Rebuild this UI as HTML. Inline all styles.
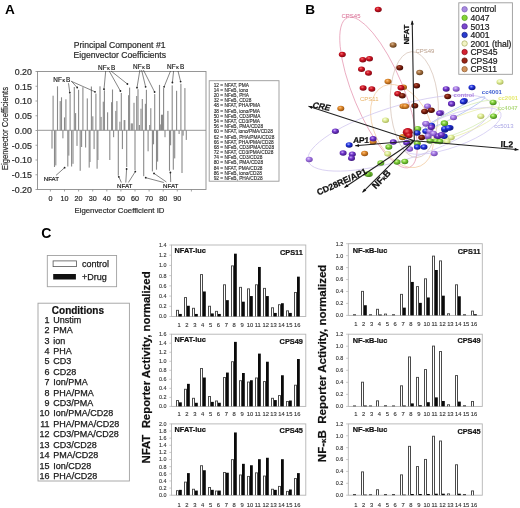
<!DOCTYPE html>
<html><head><meta charset="utf-8"><title>Figure</title>
<style>
html,body{margin:0;padding:0;background:#fff;}
body{width:520px;height:508px;overflow:hidden;}
svg{display:block;font-family:"Liberation Sans",sans-serif;will-change:transform;}
text{font-variant-ligatures:none;font-feature-settings:"liga" 0;}
</style></head><body>
<svg width="520" height="508" viewBox="0 0 520 508">
<defs><radialGradient id="gctl" cx="0.4" cy="0.35" r="0.68"><stop offset="0" stop-color="#dcc8fa"/><stop offset="0.4" stop-color="#a67ae4"/><stop offset="1" stop-color="#6a40a8"/></radialGradient><radialGradient id="gg47" cx="0.4" cy="0.35" r="0.68"><stop offset="0" stop-color="#d8f8a8"/><stop offset="0.4" stop-color="#80d03a"/><stop offset="1" stop-color="#3f8018"/></radialGradient><radialGradient id="gp13" cx="0.4" cy="0.35" r="0.68"><stop offset="0" stop-color="#c8a8f4"/><stop offset="0.4" stop-color="#7236cc"/><stop offset="1" stop-color="#3a1678"/></radialGradient><radialGradient id="gb01" cx="0.4" cy="0.35" r="0.68"><stop offset="0" stop-color="#a0b0ff"/><stop offset="0.4" stop-color="#2233dd"/><stop offset="1" stop-color="#0c1278"/></radialGradient><radialGradient id="gy01" cx="0.4" cy="0.35" r="0.68"><stop offset="0" stop-color="#fbffe4"/><stop offset="0.4" stop-color="#e0ee98"/><stop offset="1" stop-color="#a8b458"/></radialGradient><radialGradient id="gr45" cx="0.4" cy="0.35" r="0.68"><stop offset="0" stop-color="#f07070"/><stop offset="0.4" stop-color="#cc1222"/><stop offset="1" stop-color="#780610"/></radialGradient><radialGradient id="gr49" cx="0.4" cy="0.35" r="0.68"><stop offset="0" stop-color="#b86048"/><stop offset="0.4" stop-color="#80200e"/><stop offset="1" stop-color="#3a0804"/></radialGradient><radialGradient id="go11" cx="0.4" cy="0.35" r="0.68"><stop offset="0" stop-color="#fcc080"/><stop offset="0.4" stop-color="#dc8628"/><stop offset="1" stop-color="#8a4a10"/></radialGradient><radialGradient id="gtan" cx="0.4" cy="0.35" r="0.68"><stop offset="0" stop-color="#dcb890"/><stop offset="0.4" stop-color="#a47040"/><stop offset="1" stop-color="#5e3a18"/></radialGradient></defs>
<rect width="520" height="508" fill="#fff"/>
<g id="pa"><g fill="#8a8a8a"><rect x="52.55" y="95.7" width="1.1" height="34.6"/><rect x="56.95" y="86.3" width="1.1" height="44"/><rect x="59.65" y="101.1" width="1.1" height="29.2"/><rect x="60.95" y="97.3" width="1.1" height="33"/><rect x="63.95" y="117.4" width="1.1" height="12.9"/><rect x="65.35" y="99.3" width="1.1" height="31"/><rect x="69.55" y="94.1" width="1.1" height="36.2"/><rect x="73.75" y="87" width="1.1" height="43.3"/><rect x="75.05" y="113.1" width="1.1" height="17.2"/><rect x="78.05" y="89.8" width="1.1" height="40.5"/><rect x="82.35" y="87.2" width="1.1" height="43.1"/><rect x="86.75" y="98.4" width="1.1" height="31.9"/><rect x="90.85" y="86.5" width="1.1" height="43.8"/><rect x="92.25" y="116.3" width="1.1" height="14"/><rect x="95.35" y="93.6" width="1.1" height="36.7"/><rect x="99.45" y="86.3" width="1.1" height="44"/><rect x="100.55" y="116.9" width="1.1" height="13.4"/><rect x="102.75" y="101.7" width="1.1" height="28.6"/><rect x="103.85" y="90.3" width="1.1" height="40"/><rect x="107.05" y="112.3" width="1.1" height="18"/><rect x="111.05" y="102.2" width="1.1" height="28.1"/><rect x="111.95" y="89.5" width="1.1" height="40.8"/><rect x="115.25" y="110.9" width="1.1" height="19.4"/><rect x="116.35" y="101.1" width="1.1" height="29.2"/><rect x="119.35" y="121.7" width="1.1" height="8.6"/><rect x="120.75" y="93" width="1.1" height="37.3"/><rect x="123.65" y="120.1" width="1.1" height="10.2"/><rect x="124.25" y="120.1" width="1.1" height="10.2"/><rect x="128.05" y="95.2" width="1.1" height="35.1"/><rect x="129.05" y="87.6" width="1.1" height="42.7"/><rect x="130.75" y="123.4" width="1.1" height="6.9"/><rect x="131.75" y="123.4" width="1.1" height="6.9"/><rect x="133.45" y="102.8" width="1.1" height="27.5"/><rect x="136.15" y="96" width="1.1" height="34.3"/><rect x="137.45" y="89.2" width="1.1" height="41.1"/><rect x="138.85" y="125" width="1.1" height="5.3"/><rect x="140.45" y="108.7" width="1.1" height="21.6"/><rect x="141.75" y="99" width="1.1" height="31.3"/><rect x="144.85" y="103.8" width="1.1" height="26.5"/><rect x="145.85" y="89.8" width="1.1" height="40.5"/><rect x="149.15" y="125" width="1.1" height="5.3"/><rect x="150.25" y="108.2" width="1.1" height="22.1"/><rect x="154.15" y="94.1" width="1.1" height="36.2"/><rect x="158.95" y="84.9" width="1.1" height="45.4"/><rect x="159.75" y="124.4" width="1.1" height="5.9"/><rect x="160.95" y="114.7" width="1.1" height="15.6"/><rect x="161.95" y="114.7" width="1.1" height="15.6"/><rect x="163.05" y="88.1" width="1.1" height="42.2"/><rect x="167.35" y="110.9" width="1.1" height="19.4"/><rect x="171.65" y="85.4" width="1.1" height="44.9"/><rect x="176.05" y="90.8" width="1.1" height="39.5"/><rect x="180.35" y="83.8" width="1.1" height="46.5"/><rect x="184.35" y="88.1" width="1.1" height="42.2"/><rect x="51.45" y="130.3" width="1.1" height="18.3"/><rect x="53.95" y="130.3" width="1.1" height="36.7"/><rect x="55.25" y="130.3" width="1.1" height="35.1"/><rect x="62.35" y="130.3" width="1.1" height="8"/><rect x="67.25" y="130.3" width="1.1" height="36.2"/><rect x="68.25" y="130.3" width="1.1" height="25.3"/><rect x="71.05" y="130.3" width="1.1" height="36.2"/><rect x="72.45" y="130.3" width="1.1" height="33.5"/><rect x="76.45" y="130.3" width="1.1" height="15.6"/><rect x="79.65" y="130.3" width="1.1" height="40.5"/><rect x="81.05" y="130.3" width="1.1" height="16.7"/><rect x="85.05" y="130.3" width="1.1" height="17.2"/><rect x="88.65" y="130.3" width="1.1" height="37.3"/><rect x="89.45" y="130.3" width="1.1" height="31.7"/><rect x="93.55" y="130.3" width="1.1" height="18.8"/><rect x="96.55" y="130.3" width="1.1" height="38.4"/><rect x="97.35" y="130.3" width="1.1" height="29.7"/><rect x="109.25" y="130.3" width="1.1" height="29.7"/><rect x="113.05" y="130.3" width="1.1" height="6.9"/><rect x="117.75" y="130.3" width="1.1" height="45.4"/><rect x="121.85" y="130.3" width="1.1" height="18.8"/><rect x="126.15" y="130.3" width="1.1" height="36.7"/><rect x="134.45" y="130.3" width="1.1" height="40"/><rect x="143.15" y="130.3" width="1.1" height="45.9"/><rect x="147.55" y="130.3" width="1.1" height="21"/><rect x="151.85" y="130.3" width="1.1" height="41.1"/><rect x="152.95" y="130.3" width="1.1" height="14"/><rect x="155.95" y="130.3" width="1.1" height="39.4"/><rect x="157.05" y="130.3" width="1.1" height="31.3"/><rect x="164.45" y="130.3" width="1.1" height="6.9"/><rect x="168.95" y="130.3" width="1.1" height="40.5"/><rect x="170.05" y="130.3" width="1.1" height="15"/><rect x="172.75" y="130.3" width="1.1" height="39.4"/><rect x="174.15" y="130.3" width="1.1" height="28.1"/><rect x="178.55" y="130.3" width="1.1" height="3.7"/><rect x="181.45" y="130.3" width="1.1" height="42.7"/><rect x="182.55" y="130.3" width="1.1" height="5.3"/><rect x="185.75" y="130.3" width="1.1" height="9.6"/></g><rect x="37.5" y="71.5" width="168.5" height="118" fill="none" stroke="#8c8c8c" stroke-width="0.9"/><line x1="37.5" y1="130.3" x2="206" y2="130.3" stroke="#8c8c8c" stroke-width="0.9"/><path d="M37.5 71.5h-2 M37.5 86.25h-2 M37.5 101h-2 M37.5 115.75h-2 M37.5 130.5h-2 M37.5 145.25h-2 M37.5 160h-2 M37.5 174.75h-2 M37.5 189.5h-2 M50.4 189.5v2 M64.5 189.5v2 M78.6 189.5v2 M92.7 189.5v2 M106.8 189.5v2 M120.9 189.5v2 M135 189.5v2 M149.1 189.5v2 M163.2 189.5v2 M177.3 189.5v2 M191.4 189.5v2" stroke="#8c8c8c" stroke-width="0.8" fill="none"/><g font-size="8.8" fill="#2a2a2a" stroke="#2a2a2a" stroke-width="0.22" text-anchor="end"><text x="31.9" y="74.8">0.20</text><text x="31.9" y="89.55">0.15</text><text x="31.9" y="104.3">0.10</text><text x="31.9" y="119.05">0.05</text><text x="31.9" y="133.8">0.00</text><text x="31.9" y="148.55">-0.05</text><text x="31.9" y="163.3">-0.10</text><text x="31.9" y="178.05">-0.15</text><text x="31.9" y="192.8">-0.20</text></g><g font-size="7.2" fill="#2a2a2a" stroke="#2a2a2a" stroke-width="0.2"><text x="50.4" y="200.6" text-anchor="middle">0</text><text x="64.5" y="200.6" text-anchor="middle">10</text><text x="78.6" y="200.6" text-anchor="middle">20</text><text x="92.7" y="200.6" text-anchor="middle">30</text><text x="106.8" y="200.6" text-anchor="middle">40</text><text x="120.9" y="200.6" text-anchor="middle">50</text><text x="135" y="200.6" text-anchor="middle">60</text><text x="149.1" y="200.6" text-anchor="middle">70</text><text x="163.2" y="200.6" text-anchor="middle">80</text><text x="177.3" y="200.6" text-anchor="middle">90</text></g><text x="119.6" y="48.2" font-size="8.6" fill="#2a2a2a" stroke="#2a2a2a" stroke-width="0.2" text-anchor="middle">Principal Component #1</text><text x="119.8" y="57.9" font-size="8.6" fill="#2a2a2a" stroke="#2a2a2a" stroke-width="0.2" text-anchor="middle">Eigenvector Coefficients</text><text x="119.5" y="212.8" font-size="7.8" fill="#2a2a2a" stroke="#2a2a2a" stroke-width="0.2" text-anchor="middle">Eigenvector Coefficient ID</text><text transform="translate(7.6 128.6) rotate(-90) scale(0.9 1)" font-size="8.6" fill="#2a2a2a" stroke="#2a2a2a" stroke-width="0.18" text-anchor="middle">Eigenvector Coefficients</text><text x="4.9" y="13.9" font-size="13.6" font-weight="bold" fill="#000">A</text><g font-size="6.4" fill="#1a1a1a" stroke="#1a1a1a" stroke-width="0.18" letter-spacing="0.15"><text x="53.2" y="81.5">NF<tspan font-size="5" dx="0.5">&#954;</tspan><tspan dx="0.9">B</tspan></text><text x="98" y="70.2">NF<tspan font-size="5" dx="0.5">&#954;</tspan><tspan dx="0.9">B</tspan></text><text x="133" y="68.9">NF<tspan font-size="5" dx="0.5">&#954;</tspan><tspan dx="0.9">B</tspan></text><text x="167" y="69.4">NF<tspan font-size="5" dx="0.5">&#954;</tspan><tspan dx="0.9">B</tspan></text></g><g font-size="6.2" fill="#1a1a1a" stroke="#1a1a1a" stroke-width="0.18"><text x="43.7" y="181.3">NFAT</text><text x="117" y="187.7">NFAT</text><text x="163" y="187.7">NFAT</text></g><path d="M68.5 83.2L69.8 92.7M71.1 80.9L77.2 87.5M71.5 81.4L95 91.8M105.7 71L104 89.2M109.2 71L120.4 91M111 71L127.4 84M139.9 70L137 87.7M141.6 70L145.6 86.8M143.4 70L154.6 92M170.5 71L164.1 86.8M173.6 71L172.4 82.5M178 71L180.6 81.6M56 175.4L64.6 167.7M121.4 182.5L118.8 176.8M125.8 182.5L126.6 169M128.4 182.5L135.3 171.6M163.8 182.5L145.7 177.7M166.4 182L154 173.4M170.7 182L170.4 172.5" stroke="#333" stroke-width="0.6" fill="none"/><g fill="#222"><circle cx="69.8" cy="92.7" r="0.9"/><circle cx="77.2" cy="87.5" r="0.9"/><circle cx="95" cy="91.8" r="0.9"/><circle cx="104" cy="89.2" r="0.9"/><circle cx="120.4" cy="91" r="0.9"/><circle cx="127.4" cy="84" r="0.9"/><circle cx="137" cy="87.7" r="0.9"/><circle cx="145.6" cy="86.8" r="0.9"/><circle cx="154.6" cy="92" r="0.9"/><circle cx="164.1" cy="86.8" r="0.9"/><circle cx="172.4" cy="82.5" r="0.9"/><circle cx="180.6" cy="81.6" r="0.9"/><circle cx="64.6" cy="167.7" r="0.9"/><circle cx="118.8" cy="176.8" r="0.9"/><circle cx="126.6" cy="169" r="0.9"/><circle cx="135.3" cy="171.6" r="0.9"/><circle cx="145.7" cy="177.7" r="0.9"/><circle cx="154" cy="173.4" r="0.9"/><circle cx="170.4" cy="172.5" r="0.9"/></g><rect x="209.2" y="80.7" width="69.8" height="100.5" fill="none" stroke="#999" stroke-width="0.9"/><g font-size="4.8" fill="#2a2a2a" stroke="#2a2a2a" stroke-width="0.12" xml:space="preserve"><text x="213.7" y="86.8">12 = NFAT, PMA</text><text x="213.7" y="91.97">14 = NF&#954;B, iono</text><text x="213.7" y="97.14">20 = NF&#954;B, PHA</text><text x="213.7" y="102.32">32 = NF&#954;B, CD28</text><text x="213.7" y="107.49">48 = NFAT, PHA/PMA</text><text x="213.7" y="112.66">38 = NF&#954;B, iono/PMA</text><text x="213.7" y="117.83">50 = NF&#954;B, CD3/PMA</text><text x="213.7" y="123.01">54 = NFAT, CD3/PMA</text><text x="213.7" y="128.18">56 = NF&#954;B, PMA/CD28</text><text x="213.7" y="133.35">60 = NFAT, iono/PMA/CD28</text><text x="213.7" y="138.52">62 = NF&#954;B, PHA/PMA/CD28</text><text x="213.7" y="143.69">66 = NFAT, PHA/PMA/CD28</text><text x="213.7" y="148.87">68 = NF&#954;B, CD3/PMA/CD28</text><text x="213.7" y="154.04">72 = NFAT,  CD3/PMA/CD28</text><text x="213.7" y="159.21">74 = NF&#954;B, CD3/CD28</text><text x="213.7" y="164.38">80 = NF&#954;B, PMA/CD28</text><text x="213.7" y="169.56">84 = NFAT, PMA/CD28</text><text x="213.7" y="174.73">86 = NF&#954;B, iono/CD28</text><text x="213.7" y="179.9">92 = NF&#954;B, PHA/CD28</text></g></g>
<g id="pb"><ellipse cx="378.5" cy="92.5" rx="81" ry="25" transform="rotate(67.4 378.5 92.5)" fill="none" stroke="#e596b0" stroke-width="0.7"/><ellipse cx="414.3" cy="104.6" rx="24" ry="53" transform="rotate(-3 414.3 104.6)" fill="none" stroke="#d4c0b4" stroke-width="0.7"/><ellipse cx="402" cy="126" rx="28" ry="44" transform="rotate(-25 402 126)" fill="none" stroke="#f2caa0" stroke-width="0.7"/><ellipse cx="400" cy="133" rx="96" ry="27" transform="rotate(-17 400 133)" fill="none" stroke="#cfc4ee" stroke-width="0.7"/><ellipse cx="455" cy="113" rx="34" ry="3.5" transform="rotate(-28 455 113)" fill="none" stroke="#a8b8f0" stroke-width="0.7"/><ellipse cx="463" cy="124" rx="40" ry="9" transform="rotate(-22 463 124)" fill="none" stroke="#e8eca8" stroke-width="0.7"/><ellipse cx="461" cy="120" rx="42" ry="11" transform="rotate(-24 461 120)" fill="none" stroke="#d4ecb4" stroke-width="0.7"/><ellipse cx="452" cy="131" rx="52" ry="16" transform="rotate(-20 452 131)" fill="none" stroke="#d0c8f2" stroke-width="0.7"/><ellipse cx="378.2" cy="9.5" rx="3.5" ry="2.75" fill="url(#gr45)"/><ellipse cx="393.1" cy="44.9" rx="3.5" ry="2.75" fill="url(#gtan)"/><ellipse cx="342.3" cy="54.6" rx="3.5" ry="2.75" fill="url(#gr45)"/><ellipse cx="362.8" cy="59.7" rx="3.5" ry="2.75" fill="url(#gr45)"/><ellipse cx="369.5" cy="58.8" rx="3.5" ry="2.75" fill="url(#gr45)"/><ellipse cx="361.5" cy="69.2" rx="3.5" ry="2.75" fill="url(#gr45)"/><ellipse cx="368.5" cy="73.1" rx="3.5" ry="2.75" fill="url(#gr45)"/><ellipse cx="363.1" cy="88" rx="3.5" ry="2.75" fill="url(#gr45)"/><ellipse cx="371.8" cy="88.9" rx="3.5" ry="2.75" fill="url(#gr45)"/><ellipse cx="399.7" cy="67.7" rx="3.5" ry="2.75" fill="url(#gr49)"/><ellipse cx="388" cy="81.5" rx="3.5" ry="2.75" fill="url(#go11)"/><ellipse cx="403.5" cy="87.2" rx="3.5" ry="2.75" fill="url(#go11)"/><ellipse cx="401" cy="87.7" rx="3.5" ry="2.75" fill="url(#gr45)"/><ellipse cx="397.7" cy="93.8" rx="3.5" ry="2.75" fill="url(#gr45)"/><ellipse cx="402.3" cy="95.8" rx="3.5" ry="2.75" fill="url(#gr49)"/><ellipse cx="403" cy="106.2" rx="3.5" ry="2.75" fill="url(#go11)"/><ellipse cx="340.8" cy="108.5" rx="3.5" ry="2.75" fill="url(#go11)"/><ellipse cx="419.7" cy="72.6" rx="3.5" ry="2.75" fill="url(#gtan)"/><ellipse cx="416.6" cy="85.7" rx="3.5" ry="2.75" fill="url(#gr49)"/><ellipse cx="446.2" cy="88.9" rx="3.5" ry="2.75" fill="url(#gp13)"/><ellipse cx="456.2" cy="88.9" rx="3.5" ry="2.75" fill="url(#gctl)"/><ellipse cx="472" cy="87.4" rx="3.5" ry="2.75" fill="url(#gb01)"/><ellipse cx="447.7" cy="96.6" rx="3.5" ry="2.75" fill="url(#gr49)"/><ellipse cx="500" cy="81.9" rx="3.5" ry="2.75" fill="url(#gy01)"/><ellipse cx="451.5" cy="103.5" rx="3.5" ry="2.75" fill="url(#gp13)"/><ellipse cx="464.3" cy="100.8" rx="3.5" ry="2.75" fill="url(#gb01)"/><ellipse cx="493.1" cy="102.4" rx="3.5" ry="2.75" fill="url(#gg47)"/><ellipse cx="480.8" cy="116.2" rx="3.5" ry="2.75" fill="url(#gy01)"/><ellipse cx="493.5" cy="116.2" rx="3.5" ry="2.75" fill="url(#gg47)"/><ellipse cx="453.5" cy="117.6" rx="3.5" ry="2.75" fill="url(#gctl)"/><ellipse cx="440.8" cy="112.7" rx="3.5" ry="2.75" fill="url(#gctl)"/><ellipse cx="414.8" cy="105.8" rx="3.5" ry="2.75" fill="url(#gr49)"/><ellipse cx="405.6" cy="106.3" rx="3.5" ry="2.75" fill="url(#go11)"/><ellipse cx="427.5" cy="106.3" rx="3.5" ry="2.75" fill="url(#gctl)"/><ellipse cx="424.6" cy="111.5" rx="3.5" ry="2.75" fill="url(#gr49)"/><ellipse cx="431.3" cy="110.2" rx="3.5" ry="2.75" fill="url(#gr49)"/><ellipse cx="439.6" cy="113.3" rx="3.5" ry="2.75" fill="url(#gp13)"/><ellipse cx="451.7" cy="104" rx="3.5" ry="2.75" fill="url(#gp13)"/><ellipse cx="463.3" cy="101.7" rx="3.5" ry="2.75" fill="url(#gb01)"/><ellipse cx="425.8" cy="123.7" rx="3.5" ry="2.75" fill="url(#gctl)"/><ellipse cx="431.5" cy="125.4" rx="3.5" ry="2.75" fill="url(#gb01)"/><ellipse cx="417.7" cy="128.8" rx="3.5" ry="2.75" fill="url(#gg47)"/><ellipse cx="417.1" cy="132.9" rx="3.5" ry="2.75" fill="url(#gb01)"/><ellipse cx="425.8" cy="131.2" rx="3.5" ry="2.75" fill="url(#gb01)"/><ellipse cx="429.8" cy="131.2" rx="3.5" ry="2.75" fill="url(#gctl)"/><ellipse cx="444.8" cy="130" rx="3.5" ry="2.75" fill="url(#gb01)"/><ellipse cx="450" cy="127.7" rx="3.5" ry="2.75" fill="url(#gb01)"/><ellipse cx="444.2" cy="123.1" rx="3.5" ry="2.75" fill="url(#gg47)"/><ellipse cx="437.3" cy="136.3" rx="3.5" ry="2.75" fill="url(#gp13)"/><ellipse cx="444.2" cy="136.3" rx="3.5" ry="2.75" fill="url(#gb01)"/><ellipse cx="428" cy="136.9" rx="3.5" ry="2.75" fill="url(#gctl)"/><ellipse cx="421.7" cy="137.5" rx="3.5" ry="2.75" fill="url(#gr49)"/><ellipse cx="436.2" cy="141" rx="3.5" ry="2.75" fill="url(#gg47)"/><ellipse cx="451.2" cy="137.5" rx="3.5" ry="2.75" fill="url(#gy01)"/><ellipse cx="444.6" cy="123.5" rx="3.5" ry="2.75" fill="url(#gg47)"/><ellipse cx="444.6" cy="128.8" rx="3.5" ry="2.75" fill="url(#gb01)"/><ellipse cx="448.5" cy="128" rx="3.5" ry="2.75" fill="url(#gb01)"/><ellipse cx="385.5" cy="120.2" rx="3.5" ry="2.75" fill="url(#gy01)"/><ellipse cx="335.4" cy="131.2" rx="3.5" ry="2.75" fill="url(#gp13)"/><ellipse cx="373.1" cy="141.9" rx="3.5" ry="2.75" fill="url(#go11)"/><ellipse cx="373.1" cy="138.8" rx="3.5" ry="2.75" fill="url(#gp13)"/><ellipse cx="349.2" cy="145" rx="3.5" ry="2.75" fill="url(#gb01)"/><ellipse cx="343.1" cy="153.1" rx="3.5" ry="2.75" fill="url(#gp13)"/><ellipse cx="352.3" cy="154.2" rx="3.5" ry="2.75" fill="url(#gp13)"/><ellipse cx="351.5" cy="158.2" rx="3.5" ry="2.75" fill="url(#gp13)"/><ellipse cx="364.6" cy="153.5" rx="3.5" ry="2.75" fill="url(#go11)"/><ellipse cx="309.2" cy="159.5" rx="3.5" ry="2.75" fill="url(#gctl)"/><ellipse cx="393.3" cy="142.1" rx="3.5" ry="2.75" fill="url(#gp13)"/><ellipse cx="402.8" cy="136.7" rx="3.5" ry="2.75" fill="url(#go11)"/><ellipse cx="406.7" cy="142.7" rx="3.5" ry="2.75" fill="url(#gp13)"/><ellipse cx="417.3" cy="143.3" rx="3.5" ry="2.75" fill="url(#gg47)"/><ellipse cx="417.3" cy="147.1" rx="3.5" ry="2.75" fill="url(#gb01)"/><ellipse cx="424" cy="147.1" rx="3.5" ry="2.75" fill="url(#gb01)"/><ellipse cx="409.6" cy="149" rx="3.5" ry="2.75" fill="url(#gctl)"/><ellipse cx="434.2" cy="153.5" rx="3.5" ry="2.75" fill="url(#gctl)"/><ellipse cx="404.8" cy="161.5" rx="3.5" ry="2.75" fill="url(#gg47)"/><ellipse cx="369.2" cy="174.2" rx="3.5" ry="2.75" fill="url(#gg47)"/><ellipse cx="380.8" cy="163.1" rx="3.5" ry="2.75" fill="url(#gg47)"/><ellipse cx="397" cy="162" rx="3.5" ry="2.75" fill="url(#gg47)"/><ellipse cx="388.8" cy="147" rx="3.5" ry="2.75" fill="url(#gg47)"/><ellipse cx="387.7" cy="153.8" rx="3.5" ry="2.75" fill="url(#gy01)"/><ellipse cx="367.6" cy="174" rx="3.5" ry="2.75" fill="url(#gg47)"/><ellipse cx="430" cy="141" rx="3.5" ry="2.75" fill="url(#gg47)"/><ellipse cx="440" cy="141.5" rx="3.5" ry="2.75" fill="url(#gg47)"/><ellipse cx="447" cy="141.5" rx="3.5" ry="2.75" fill="url(#gy01)"/><ellipse cx="431.3" cy="127.3" rx="3.5" ry="2.75" fill="url(#gp13)"/><ellipse cx="433.5" cy="133.5" rx="3.5" ry="2.75" fill="url(#gctl)"/><ellipse cx="438.2" cy="136.2" rx="3.5" ry="2.75" fill="url(#gp13)"/><ellipse cx="441.5" cy="134.8" rx="3.5" ry="2.75" fill="url(#gp13)"/><ellipse cx="428" cy="135.9" rx="3.5" ry="2.75" fill="url(#gctl)"/><ellipse cx="426" cy="123.7" rx="3.5" ry="2.75" fill="url(#gctl)"/><ellipse cx="402.4" cy="137.4" rx="3.5" ry="2.75" fill="url(#go11)"/><ellipse cx="407.8" cy="132.3" rx="5" ry="4.2" fill="url(#gr45)"/><ellipse cx="409" cy="135.5" rx="3.6" ry="2.8" fill="url(#gr45)"/><path d="M414.3 140.8L412.2 20.8M414.3 140.8L308.5 106.3M414.3 140.8L355.2 145.8M414.3 140.8L344.5 187.5M414.3 140.8L362.5 192.3M414.3 140.8L518.5 149.7" stroke="#222" stroke-width="1.1" fill="none"/><path d="M412.2 20.8L413.87 24.57L410.67 24.63ZM308.5 106.3L312.61 105.96L311.62 109ZM355.2 145.8L358.85 143.89L359.12 147.07ZM344.5 187.5L346.77 184.06L348.55 186.72ZM362.5 192.3L364.07 188.49L366.32 190.76ZM518.5 149.7L514.58 150.97L514.85 147.78Z" fill="#111"/><g font-weight="bold" fill="#111" stroke="#111" stroke-width="0.25"><text transform="translate(409.3 34.6) rotate(-90)" font-size="7.9" text-anchor="middle">NFAT</text><text transform="translate(311.8 107.4) rotate(11) skewX(-12)" font-size="8.4">CRE</text><text transform="translate(352.9 142.8) skewX(-5)" font-size="8.2">AP1</text><text transform="translate(318.6 195.6) rotate(-24.5)" font-size="8.7">CD28RE/AP1</text><text transform="translate(375.8 189.6) rotate(-46)" font-size="9.2">NF<tspan font-size="6.2">&#954;</tspan>B</text><text transform="translate(500.6 146.9) rotate(2)" font-size="8.7">IL2</text></g><g font-size="6"><text x="341.5" y="18.3" fill="#d86890">CPS45</text><text x="415.4" y="52.6" fill="#b89c88">CPS49</text><text x="360" y="100.6" fill="#e8b060">CPS11</text><text x="453.6" y="96.8" fill="#a87ce0" font-weight="bold">control</text><text x="481.8" y="93.8" fill="#3c5cd0" font-weight="bold">cc4001</text><text x="498.2" y="99.5" fill="#e6ea70" font-weight="bold">cc2001</text><text x="497.7" y="109.5" fill="#b4dc84" font-weight="bold">cc4047</text><text x="494.2" y="128" fill="#a8a4e4">cc5013</text></g><rect x="458.8" y="2.8" width="53.6" height="71.5" fill="#fff" stroke="#9a9a9a" stroke-width="0.9"/><g font-size="8.6" fill="#1a1a1a" stroke="#1a1a1a" stroke-width="0.2"><circle cx="464.6" cy="9.3" r="2.7" fill="#a88ae0" stroke="#7a5cb8" stroke-width="0.7"/><text x="470.4" y="12.4">control</text><circle cx="464.6" cy="17.85" r="2.7" fill="#84d436" stroke="#4f9a18" stroke-width="0.7"/><text x="470.4" y="20.95">4047</text><circle cx="464.6" cy="26.4" r="2.7" fill="#7a48cc" stroke="#4a2290" stroke-width="0.7"/><text x="470.4" y="29.5">5013</text><circle cx="464.6" cy="34.95" r="2.7" fill="#2a3cd0" stroke="#16207e" stroke-width="0.7"/><text x="470.4" y="38.05">4001</text><circle cx="464.6" cy="43.5" r="2.7" fill="#f2f4c4" stroke="#a8ac60" stroke-width="0.7"/><text x="470.4" y="46.6">2001 (thal)</text><circle cx="464.6" cy="52.05" r="2.7" fill="#d42232" stroke="#8a0c16" stroke-width="0.7"/><text x="470.4" y="55.15">CPS45</text><circle cx="464.6" cy="60.6" r="2.7" fill="#962414" stroke="#5a0e06" stroke-width="0.7"/><text x="470.4" y="63.7">CPS49</text><circle cx="464.6" cy="69.15" r="2.7" fill="#d0925c" stroke="#8e5a2c" stroke-width="0.7"/><text x="470.4" y="72.25">CPS11</text></g><text x="305.2" y="13.9" font-size="13.6" font-weight="bold" fill="#000">B</text></g>
<g id="pc"><text x="41.2" y="238.4" font-size="14" font-weight="bold" fill="#000">C</text><rect x="47.3" y="255.5" width="69.3" height="31.2" fill="none" stroke="#a0a0a0" stroke-width="0.9"/><rect x="53.1" y="260.9" width="23.4" height="5.7" fill="#fff" stroke="#555" stroke-width="0.8"/><rect x="53.2" y="274" width="22.7" height="5.5" fill="#111"/><g font-size="9" fill="#1a1a1a" stroke="#1a1a1a" stroke-width="0.25"><text x="82" y="267.2">control</text><text x="82" y="280">+Drug</text></g><rect x="38" y="303.2" width="91.4" height="177.8" fill="none" stroke="#a0a0a0" stroke-width="0.9"/><text x="51.8" y="314.4" font-size="10" font-weight="bold" fill="#111" stroke="#111" stroke-width="0.2">Conditions</text><g font-size="9" fill="#1a1a1a" stroke="#1a1a1a" stroke-width="0.25"><text x="49.6" y="322.8" text-anchor="end">1</text><text x="53.3" y="322.8">Unstim</text><text x="49.6" y="333.21" text-anchor="end">2</text><text x="53.3" y="333.21">PMA</text><text x="49.6" y="343.62" text-anchor="end">3</text><text x="53.3" y="343.62">ion</text><text x="49.6" y="354.03" text-anchor="end">4</text><text x="53.3" y="354.03">PHA</text><text x="49.6" y="364.44" text-anchor="end">5</text><text x="53.3" y="364.44">CD3</text><text x="49.6" y="374.85" text-anchor="end">6</text><text x="53.3" y="374.85">CD28</text><text x="49.6" y="385.26" text-anchor="end">7</text><text x="53.3" y="385.26">Ion/PMA</text><text x="49.6" y="395.67" text-anchor="end">8</text><text x="53.3" y="395.67">PHA/PMA</text><text x="49.6" y="406.08" text-anchor="end">9</text><text x="53.3" y="406.08">CD3/PMA</text><text x="49.6" y="416.49" text-anchor="end">10</text><text x="53.3" y="416.49">Ion/PMA/CD28</text><text x="49.6" y="426.9" text-anchor="end">11</text><text x="53.3" y="426.9">PHA/PMA/CD28</text><text x="49.6" y="437.31" text-anchor="end">12</text><text x="53.3" y="437.31">CD3/PMA/CD28</text><text x="49.6" y="447.72" text-anchor="end">13</text><text x="53.3" y="447.72">CD3/CD28</text><text x="49.6" y="458.13" text-anchor="end">14</text><text x="53.3" y="458.13">PMA/CD28</text><text x="49.6" y="468.54" text-anchor="end">15</text><text x="53.3" y="468.54">Ion/CD28</text><text x="49.6" y="478.95" text-anchor="end">16</text><text x="53.3" y="478.95">PHA/CD28</text></g><text transform="translate(149.8 367.5) rotate(-90)" font-size="11.4" font-weight="bold" fill="#111" stroke="#111" stroke-width="0.2" text-anchor="middle" xml:space="preserve">NFAT  Reporter Activity, normalized</text><text transform="translate(326 363.4) rotate(-90)" font-size="11.55" font-weight="bold" fill="#111" stroke="#111" stroke-width="0.2" text-anchor="middle" xml:space="preserve">NF-<tspan font-size="8">&#954;</tspan>B  Reporter Activity, normalized</text><rect x="171.5" y="245" width="134.3" height="71.5" fill="none" stroke="#b4b4b4" stroke-width="0.9"/><path d="M171.5 316.5h-2.2M171.5 306.29h-2.2M171.5 296.07h-2.2M171.5 285.86h-2.2M171.5 275.64h-2.2M171.5 265.43h-2.2M171.5 255.21h-2.2M171.5 245h-2.2" stroke="#b4b4b4" stroke-width="0.7"/><g font-size="5.4" fill="#333" stroke="#333" stroke-width="0.12" text-anchor="end"><text x="166.6" y="318.4">0.0</text><text x="166.6" y="308.19">0.2</text><text x="166.6" y="297.97">0.4</text><text x="166.6" y="287.76">0.6</text><text x="166.6" y="277.54">0.8</text><text x="166.6" y="267.33">1.0</text><text x="166.6" y="257.11">1.2</text><text x="166.6" y="246.9">1.4</text></g><g><rect x="176" y="309.86" width="3" height="6.64" fill="#4a4a4a"/><rect x="177" y="310.76" width="1" height="5.74" fill="#fff"/><rect x="184" y="297.09" width="3" height="19.41" fill="#4a4a4a"/><rect x="185" y="297.99" width="1" height="18.51" fill="#fff"/><rect x="192" y="307.82" width="3" height="8.68" fill="#4a4a4a"/><rect x="193" y="308.72" width="1" height="7.78" fill="#fff"/><rect x="200" y="274.11" width="3" height="42.39" fill="#4a4a4a"/><rect x="201" y="275.01" width="1" height="41.49" fill="#fff"/><rect x="208" y="305.77" width="3" height="10.73" fill="#4a4a4a"/><rect x="209" y="306.67" width="1" height="9.83" fill="#fff"/><rect x="215" y="310.88" width="3" height="5.62" fill="#4a4a4a"/><rect x="216" y="311.78" width="1" height="4.72" fill="#fff"/><rect x="223" y="284.32" width="3" height="32.18" fill="#4a4a4a"/><rect x="224" y="285.22" width="1" height="31.28" fill="#fff"/><rect x="231" y="265.43" width="3" height="51.07" fill="#4a4a4a"/><rect x="232" y="266.33" width="1" height="50.17" fill="#fff"/><rect x="239" y="286.88" width="3" height="29.62" fill="#4a4a4a"/><rect x="240" y="287.78" width="1" height="28.72" fill="#fff"/><rect x="247" y="288.41" width="3" height="28.09" fill="#4a4a4a"/><rect x="248" y="289.31" width="1" height="27.19" fill="#fff"/><rect x="255" y="284.32" width="3" height="32.18" fill="#4a4a4a"/><rect x="256" y="285.22" width="1" height="31.28" fill="#fff"/><rect x="263" y="287.9" width="3" height="28.6" fill="#4a4a4a"/><rect x="264" y="288.8" width="1" height="27.7" fill="#fff"/><rect x="271" y="307.31" width="3" height="9.19" fill="#4a4a4a"/><rect x="272" y="308.21" width="1" height="8.29" fill="#fff"/><rect x="278" y="304.24" width="3" height="12.26" fill="#4a4a4a"/><rect x="279" y="305.14" width="1" height="11.36" fill="#fff"/><rect x="286" y="310.37" width="3" height="6.13" fill="#4a4a4a"/><rect x="287" y="311.27" width="1" height="5.23" fill="#fff"/><rect x="294" y="291.99" width="3" height="24.51" fill="#4a4a4a"/><rect x="295" y="292.89" width="1" height="23.61" fill="#fff"/></g><g fill="#0a0a0a"><rect x="179" y="313.95" width="2.8" height="2.55"/><rect x="187" y="305.77" width="2.8" height="10.73"/><rect x="195" y="313.95" width="2.8" height="2.55"/><rect x="203" y="291.48" width="2.8" height="25.03"/><rect x="211" y="313.44" width="2.8" height="3.06"/><rect x="218" y="313.95" width="2.8" height="2.55"/><rect x="226" y="300.16" width="2.8" height="16.34"/><rect x="234" y="253.68" width="2.8" height="62.82"/><rect x="242" y="301.69" width="2.8" height="14.81"/><rect x="250" y="296.07" width="2.8" height="20.43"/><rect x="258" y="266.96" width="2.8" height="49.54"/><rect x="266" y="296.07" width="2.8" height="20.43"/><rect x="274" y="312.93" width="2.8" height="3.58"/><rect x="281" y="303.22" width="2.8" height="13.28"/><rect x="289" y="312.93" width="2.8" height="3.58"/><rect x="297" y="276.66" width="2.8" height="39.84"/></g><g font-size="5.8" fill="#333" stroke="#333" stroke-width="0.12" text-anchor="middle"><text x="179" y="326.6">1</text><text x="186.88" y="326.6">2</text><text x="194.76" y="326.6">3</text><text x="202.64" y="326.6">4</text><text x="210.52" y="326.6">5</text><text x="218.4" y="326.6">6</text><text x="226.28" y="326.6">7</text><text x="234.16" y="326.6">8</text><text x="242.04" y="326.6">9</text><text x="249.92" y="326.6">10</text><text x="257.8" y="326.6">11</text><text x="265.68" y="326.6">12</text><text x="273.56" y="326.6">13</text><text x="281.44" y="326.6">14</text><text x="289.32" y="326.6">15</text><text x="297.2" y="326.6">16</text></g><text x="174.5" y="252.8" font-size="7.35" font-weight="bold" fill="#111" stroke="#111" stroke-width="0.2">NFAT-luc</text><text x="302.9" y="254.5" font-size="7.35" font-weight="bold" fill="#111" stroke="#111" stroke-width="0.2" text-anchor="end">CPS11</text><rect x="171.5" y="334.2" width="134.3" height="72.2" fill="none" stroke="#b4b4b4" stroke-width="0.9"/><path d="M171.5 406.4h-2.2M171.5 397.38h-2.2M171.5 388.35h-2.2M171.5 379.32h-2.2M171.5 370.3h-2.2M171.5 361.27h-2.2M171.5 352.25h-2.2M171.5 343.22h-2.2M171.5 334.2h-2.2" stroke="#b4b4b4" stroke-width="0.7"/><g font-size="5.4" fill="#333" stroke="#333" stroke-width="0.12" text-anchor="end"><text x="166.6" y="408.3">0.0</text><text x="166.6" y="399.27">0.2</text><text x="166.6" y="390.25">0.4</text><text x="166.6" y="381.22">0.6</text><text x="166.6" y="372.2">0.8</text><text x="166.6" y="363.17">1.0</text><text x="166.6" y="354.15">1.2</text><text x="166.6" y="345.12">1.4</text><text x="166.6" y="336.1">1.6</text></g><g><rect x="176" y="400.08" width="3" height="6.32" fill="#4a4a4a"/><rect x="177" y="400.98" width="1" height="5.42" fill="#fff"/><rect x="184" y="388.8" width="3" height="17.6" fill="#4a4a4a"/><rect x="185" y="389.7" width="1" height="16.7" fill="#fff"/><rect x="192" y="397.83" width="3" height="8.57" fill="#4a4a4a"/><rect x="193" y="398.73" width="1" height="7.67" fill="#fff"/><rect x="200" y="368.04" width="3" height="38.36" fill="#4a4a4a"/><rect x="201" y="368.94" width="1" height="37.46" fill="#fff"/><rect x="208" y="396.02" width="3" height="10.38" fill="#4a4a4a"/><rect x="209" y="396.92" width="1" height="9.48" fill="#fff"/><rect x="215" y="400.53" width="3" height="5.87" fill="#4a4a4a"/><rect x="216" y="401.43" width="1" height="4.97" fill="#fff"/><rect x="223" y="377.07" width="3" height="29.33" fill="#4a4a4a"/><rect x="224" y="377.97" width="1" height="28.43" fill="#fff"/><rect x="231" y="361.27" width="3" height="45.12" fill="#4a4a4a"/><rect x="232" y="362.17" width="1" height="44.22" fill="#fff"/><rect x="239" y="380.23" width="3" height="26.17" fill="#4a4a4a"/><rect x="240" y="381.13" width="1" height="25.27" fill="#fff"/><rect x="247" y="381.58" width="3" height="24.82" fill="#4a4a4a"/><rect x="248" y="382.48" width="1" height="23.92" fill="#fff"/><rect x="255" y="377.52" width="3" height="28.88" fill="#4a4a4a"/><rect x="256" y="378.42" width="1" height="27.98" fill="#fff"/><rect x="263" y="381.13" width="3" height="25.27" fill="#4a4a4a"/><rect x="264" y="382.03" width="1" height="24.37" fill="#fff"/><rect x="271" y="397.83" width="3" height="8.57" fill="#4a4a4a"/><rect x="272" y="398.73" width="1" height="7.67" fill="#fff"/><rect x="278" y="395.12" width="3" height="11.28" fill="#4a4a4a"/><rect x="279" y="396.02" width="1" height="10.38" fill="#fff"/><rect x="286" y="400.98" width="3" height="5.41" fill="#4a4a4a"/><rect x="287" y="401.88" width="1" height="4.51" fill="#fff"/><rect x="294" y="384.74" width="3" height="21.66" fill="#4a4a4a"/><rect x="295" y="385.64" width="1" height="20.76" fill="#fff"/></g><g fill="#0a0a0a"><rect x="179" y="402.34" width="2.8" height="4.06"/><rect x="187" y="383.84" width="2.8" height="22.56"/><rect x="195" y="402.79" width="2.8" height="3.61"/><rect x="203" y="377.52" width="2.8" height="28.88"/><rect x="211" y="401.89" width="2.8" height="4.51"/><rect x="218" y="402.79" width="2.8" height="3.61"/><rect x="226" y="372.56" width="2.8" height="33.84"/><rect x="234" y="341.87" width="2.8" height="64.53"/><rect x="242" y="373.01" width="2.8" height="33.39"/><rect x="250" y="380.23" width="2.8" height="26.17"/><rect x="258" y="353.6" width="2.8" height="52.8"/><rect x="266" y="361.73" width="2.8" height="44.67"/><rect x="274" y="400.08" width="2.8" height="6.32"/><rect x="281" y="375.26" width="2.8" height="31.14"/><rect x="289" y="400.53" width="2.8" height="5.87"/><rect x="297" y="359.02" width="2.8" height="47.38"/></g><g font-size="5.8" fill="#333" stroke="#333" stroke-width="0.12" text-anchor="middle"><text x="179" y="415.6">1</text><text x="186.88" y="415.6">2</text><text x="194.76" y="415.6">3</text><text x="202.64" y="415.6">4</text><text x="210.52" y="415.6">5</text><text x="218.4" y="415.6">6</text><text x="226.28" y="415.6">7</text><text x="234.16" y="415.6">8</text><text x="242.04" y="415.6">9</text><text x="249.92" y="415.6">10</text><text x="257.8" y="415.6">11</text><text x="265.68" y="415.6">12</text><text x="273.56" y="415.6">13</text><text x="281.44" y="415.6">14</text><text x="289.32" y="415.6">15</text><text x="297.2" y="415.6">16</text></g><text x="174.5" y="341.8" font-size="7.35" font-weight="bold" fill="#111" stroke="#111" stroke-width="0.2">NFAT-luc</text><text x="302.9" y="344.1" font-size="7.35" font-weight="bold" fill="#111" stroke="#111" stroke-width="0.2" text-anchor="end">CPS49</text><rect x="171.5" y="423.9" width="134.3" height="71.3" fill="none" stroke="#b4b4b4" stroke-width="0.9"/><path d="M171.5 495.2h-2.2M171.5 488.07h-2.2M171.5 480.94h-2.2M171.5 473.81h-2.2M171.5 466.68h-2.2M171.5 459.55h-2.2M171.5 452.42h-2.2M171.5 445.29h-2.2M171.5 438.16h-2.2M171.5 431.03h-2.2M171.5 423.9h-2.2" stroke="#b4b4b4" stroke-width="0.7"/><g font-size="5.4" fill="#333" stroke="#333" stroke-width="0.12" text-anchor="end"><text x="166.6" y="497.1">0.0</text><text x="166.6" y="489.97">0.2</text><text x="166.6" y="482.84">0.4</text><text x="166.6" y="475.71">0.6</text><text x="166.6" y="468.58">0.8</text><text x="166.6" y="461.45">1.0</text><text x="166.6" y="454.32">1.2</text><text x="166.6" y="447.19">1.4</text><text x="166.6" y="440.06">1.6</text><text x="166.6" y="432.93">1.8</text><text x="166.6" y="425.8">2.0</text></g><g><rect x="176" y="490.21" width="3" height="4.99" fill="#4a4a4a"/><rect x="177" y="491.11" width="1" height="4.09" fill="#fff"/><rect x="184" y="481.65" width="3" height="13.55" fill="#4a4a4a"/><rect x="185" y="482.55" width="1" height="12.65" fill="#fff"/><rect x="192" y="488.78" width="3" height="6.42" fill="#4a4a4a"/><rect x="193" y="489.68" width="1" height="5.52" fill="#fff"/><rect x="200" y="465.25" width="3" height="29.95" fill="#4a4a4a"/><rect x="201" y="466.15" width="1" height="29.05" fill="#fff"/><rect x="208" y="487" width="3" height="8.2" fill="#4a4a4a"/><rect x="209" y="487.9" width="1" height="7.3" fill="#fff"/><rect x="215" y="490.57" width="3" height="4.63" fill="#4a4a4a"/><rect x="216" y="491.47" width="1" height="3.73" fill="#fff"/><rect x="223" y="472.03" width="3" height="23.17" fill="#4a4a4a"/><rect x="224" y="472.93" width="1" height="22.27" fill="#fff"/><rect x="231" y="459.19" width="3" height="36.01" fill="#4a4a4a"/><rect x="232" y="460.09" width="1" height="35.11" fill="#fff"/><rect x="239" y="474.52" width="3" height="20.68" fill="#4a4a4a"/><rect x="240" y="475.42" width="1" height="19.78" fill="#fff"/><rect x="247" y="475.95" width="3" height="19.25" fill="#4a4a4a"/><rect x="248" y="476.85" width="1" height="18.35" fill="#fff"/><rect x="255" y="472.38" width="3" height="22.82" fill="#4a4a4a"/><rect x="256" y="473.28" width="1" height="21.92" fill="#fff"/><rect x="263" y="475.59" width="3" height="19.61" fill="#4a4a4a"/><rect x="264" y="476.49" width="1" height="18.71" fill="#fff"/><rect x="271" y="488.78" width="3" height="6.42" fill="#4a4a4a"/><rect x="272" y="489.68" width="1" height="5.52" fill="#fff"/><rect x="278" y="485.93" width="3" height="9.27" fill="#4a4a4a"/><rect x="279" y="486.83" width="1" height="8.37" fill="#fff"/><rect x="286" y="490.92" width="3" height="4.28" fill="#4a4a4a"/><rect x="287" y="491.82" width="1" height="3.38" fill="#fff"/><rect x="294" y="478.09" width="3" height="17.11" fill="#4a4a4a"/><rect x="295" y="478.99" width="1" height="16.21" fill="#fff"/></g><g fill="#0a0a0a"><rect x="179" y="489.85" width="2.8" height="5.35"/><rect x="187" y="473.1" width="2.8" height="22.1"/><rect x="195" y="490.57" width="2.8" height="4.63"/><rect x="203" y="470.25" width="2.8" height="24.96"/><rect x="211" y="489.85" width="2.8" height="5.35"/><rect x="218" y="490.57" width="2.8" height="4.63"/><rect x="226" y="472.74" width="2.8" height="22.46"/><rect x="234" y="432.46" width="2.8" height="62.74"/><rect x="242" y="463.83" width="2.8" height="31.37"/><rect x="250" y="465.25" width="2.8" height="29.95"/><rect x="258" y="459.19" width="2.8" height="36.01"/><rect x="266" y="457.77" width="2.8" height="37.43"/><rect x="274" y="489.85" width="2.8" height="5.35"/><rect x="281" y="459.19" width="2.8" height="36.01"/><rect x="289" y="489.5" width="2.8" height="5.7"/><rect x="297" y="473.1" width="2.8" height="22.1"/></g><g font-size="5.8" fill="#333" stroke="#333" stroke-width="0.12" text-anchor="middle"><text x="179" y="506.6">1</text><text x="186.88" y="506.6">2</text><text x="194.76" y="506.6">3</text><text x="202.64" y="506.6">4</text><text x="210.52" y="506.6">5</text><text x="218.4" y="506.6">6</text><text x="226.28" y="506.6">7</text><text x="234.16" y="506.6">8</text><text x="242.04" y="506.6">9</text><text x="249.92" y="506.6">10</text><text x="257.8" y="506.6">11</text><text x="265.68" y="506.6">12</text><text x="273.56" y="506.6">13</text><text x="281.44" y="506.6">14</text><text x="289.32" y="506.6">15</text><text x="297.2" y="506.6">16</text></g><text x="174.5" y="431.5" font-size="7.35" font-weight="bold" fill="#111" stroke="#111" stroke-width="0.2">NFAT-luc</text><text x="302.9" y="432.7" font-size="7.35" font-weight="bold" fill="#111" stroke="#111" stroke-width="0.2" text-anchor="end">CPS45</text><rect x="348.3" y="243.7" width="134" height="71.7" fill="none" stroke="#b4b4b4" stroke-width="0.9"/><path d="M348.3 315.4h-2.2M348.3 303.45h-2.2M348.3 291.5h-2.2M348.3 279.55h-2.2M348.3 267.6h-2.2M348.3 255.65h-2.2M348.3 243.7h-2.2" stroke="#b4b4b4" stroke-width="0.7"/><g font-size="5.4" fill="#333" stroke="#333" stroke-width="0.12" text-anchor="end"><text x="343.2" y="317.3">0.0</text><text x="343.2" y="305.35">0.2</text><text x="343.2" y="293.4">0.4</text><text x="343.2" y="281.45">0.6</text><text x="343.2" y="269.5">0.8</text><text x="343.2" y="257.55">1.0</text><text x="343.2" y="245.6">1.2</text></g><g><rect x="353" y="314.2" width="3" height="1.19" fill="#4a4a4a"/><rect x="361" y="290.9" width="3" height="24.5" fill="#4a4a4a"/><rect x="362" y="291.8" width="1" height="23.6" fill="#fff"/><rect x="369" y="314.2" width="3" height="1.19" fill="#4a4a4a"/><rect x="376" y="308.83" width="3" height="6.57" fill="#4a4a4a"/><rect x="377" y="309.73" width="1" height="5.67" fill="#fff"/><rect x="384" y="313.61" width="3" height="1.79" fill="#4a4a4a"/><rect x="385" y="314.51" width="1" height="0.89" fill="#fff"/><rect x="392" y="314.2" width="3" height="1.19" fill="#4a4a4a"/><rect x="400" y="293.89" width="3" height="21.51" fill="#4a4a4a"/><rect x="401" y="294.79" width="1" height="20.61" fill="#fff"/><rect x="408" y="265.81" width="3" height="49.59" fill="#4a4a4a"/><rect x="409" y="266.71" width="1" height="48.69" fill="#fff"/><rect x="416" y="286.12" width="3" height="29.28" fill="#4a4a4a"/><rect x="417" y="287.02" width="1" height="28.38" fill="#fff"/><rect x="424" y="278.35" width="3" height="37.04" fill="#4a4a4a"/><rect x="425" y="279.25" width="1" height="36.14" fill="#fff"/><rect x="432" y="255.65" width="3" height="59.75" fill="#4a4a4a"/><rect x="433" y="256.55" width="1" height="58.85" fill="#fff"/><rect x="439" y="260.43" width="3" height="54.97" fill="#4a4a4a"/><rect x="440" y="261.33" width="1" height="54.07" fill="#fff"/><rect x="447" y="313.31" width="3" height="2.09" fill="#4a4a4a"/><rect x="448" y="314.21" width="1" height="1.19" fill="#fff"/><rect x="455" y="284.33" width="3" height="31.07" fill="#4a4a4a"/><rect x="456" y="285.23" width="1" height="30.17" fill="#fff"/><rect x="463" y="314.2" width="3" height="1.19" fill="#4a4a4a"/><rect x="471" y="310.62" width="3" height="4.78" fill="#4a4a4a"/><rect x="472" y="311.52" width="1" height="3.88" fill="#fff"/></g><g fill="#0a0a0a"><rect x="364" y="305.24" width="2.8" height="10.16"/><rect x="379" y="314.5" width="2.8" height="0.9"/><rect x="403" y="307.63" width="2.8" height="7.77"/><rect x="411" y="281.94" width="2.8" height="33.46"/><rect x="419" y="302.85" width="2.8" height="12.55"/><rect x="427" y="297.47" width="2.8" height="17.92"/><rect x="435" y="269.99" width="2.8" height="45.41"/><rect x="442" y="295.68" width="2.8" height="19.72"/><rect x="458" y="296.28" width="2.8" height="19.12"/><rect x="474" y="314.2" width="2.8" height="1.19"/></g><g font-size="5.8" fill="#333" stroke="#333" stroke-width="0.12" text-anchor="middle"><text x="355.8" y="326">1</text><text x="363.68" y="326">2</text><text x="371.56" y="326">3</text><text x="379.44" y="326">4</text><text x="387.32" y="326">5</text><text x="395.2" y="326">6</text><text x="403.08" y="326">7</text><text x="410.96" y="326">8</text><text x="418.84" y="326">9</text><text x="426.72" y="326">10</text><text x="434.6" y="326">11</text><text x="442.48" y="326">12</text><text x="450.36" y="326">13</text><text x="458.24" y="326">14</text><text x="466.12" y="326">15</text><text x="474" y="326">16</text></g><text x="352.7" y="253.3" font-size="7.35" font-weight="bold" fill="#111" stroke="#111" stroke-width="0.2">NF-&#954;B-luc</text><text x="480.7" y="254.2" font-size="7.35" font-weight="bold" fill="#111" stroke="#111" stroke-width="0.2" text-anchor="end">CPS11</text><rect x="348.3" y="334.2" width="134" height="72.2" fill="none" stroke="#b4b4b4" stroke-width="0.9"/><path d="M348.3 406.4h-2.2M348.3 394.37h-2.2M348.3 382.33h-2.2M348.3 370.3h-2.2M348.3 358.27h-2.2M348.3 346.23h-2.2M348.3 334.2h-2.2" stroke="#b4b4b4" stroke-width="0.7"/><g font-size="5.4" fill="#333" stroke="#333" stroke-width="0.12" text-anchor="end"><text x="343.2" y="408.3">0.0</text><text x="343.2" y="396.27">0.2</text><text x="343.2" y="384.23">0.4</text><text x="343.2" y="372.2">0.6</text><text x="343.2" y="360.17">0.8</text><text x="343.2" y="348.13">1.0</text><text x="343.2" y="336.1">1.2</text></g><g><rect x="353" y="405.4" width="3" height="1" fill="#4a4a4a"/><rect x="361" y="381.73" width="3" height="24.67" fill="#4a4a4a"/><rect x="362" y="382.63" width="1" height="23.77" fill="#fff"/><rect x="369" y="405.4" width="3" height="1" fill="#4a4a4a"/><rect x="376" y="400.38" width="3" height="6.02" fill="#4a4a4a"/><rect x="377" y="401.28" width="1" height="5.12" fill="#fff"/><rect x="384" y="405.2" width="3" height="1.2" fill="#4a4a4a"/><rect x="392" y="405.4" width="3" height="1" fill="#4a4a4a"/><rect x="400" y="385.34" width="3" height="21.06" fill="#4a4a4a"/><rect x="401" y="386.24" width="1" height="20.16" fill="#fff"/><rect x="408" y="356.46" width="3" height="49.94" fill="#4a4a4a"/><rect x="409" y="357.36" width="1" height="49.04" fill="#fff"/><rect x="416" y="376.92" width="3" height="29.48" fill="#4a4a4a"/><rect x="417" y="377.82" width="1" height="28.58" fill="#fff"/><rect x="424" y="369.1" width="3" height="37.3" fill="#4a4a4a"/><rect x="425" y="370" width="1" height="36.4" fill="#fff"/><rect x="432" y="345.63" width="3" height="60.77" fill="#4a4a4a"/><rect x="433" y="346.53" width="1" height="59.87" fill="#fff"/><rect x="439" y="351.05" width="3" height="55.35" fill="#4a4a4a"/><rect x="440" y="351.95" width="1" height="54.45" fill="#fff"/><rect x="447" y="404.29" width="3" height="2.11" fill="#4a4a4a"/><rect x="448" y="405.19" width="1" height="1.21" fill="#fff"/><rect x="455" y="375.11" width="3" height="31.29" fill="#4a4a4a"/><rect x="456" y="376.01" width="1" height="30.39" fill="#fff"/><rect x="463" y="405.2" width="3" height="1.2" fill="#4a4a4a"/><rect x="471" y="400.98" width="3" height="5.41" fill="#4a4a4a"/><rect x="472" y="401.88" width="1" height="4.51" fill="#fff"/></g><g fill="#0a0a0a"><rect x="364" y="405.5" width="2.8" height="0.9"/><rect x="403" y="405.5" width="2.8" height="0.9"/><rect x="411" y="403.39" width="2.8" height="3.01"/><rect x="419" y="405.2" width="2.8" height="1.2"/><rect x="427" y="402.19" width="2.8" height="4.21"/><rect x="435" y="397.38" width="2.8" height="9.02"/><rect x="442" y="400.98" width="2.8" height="5.41"/><rect x="458" y="401.59" width="2.8" height="4.81"/></g><g font-size="5.8" fill="#333" stroke="#333" stroke-width="0.12" text-anchor="middle"><text x="355.8" y="415.6">1</text><text x="363.68" y="415.6">2</text><text x="371.56" y="415.6">3</text><text x="379.44" y="415.6">4</text><text x="387.32" y="415.6">5</text><text x="395.2" y="415.6">6</text><text x="403.08" y="415.6">7</text><text x="410.96" y="415.6">8</text><text x="418.84" y="415.6">9</text><text x="426.72" y="415.6">10</text><text x="434.6" y="415.6">11</text><text x="442.48" y="415.6">12</text><text x="450.36" y="415.6">13</text><text x="458.24" y="415.6">14</text><text x="466.12" y="415.6">15</text><text x="474" y="415.6">16</text></g><text x="352.7" y="342.5" font-size="7.35" font-weight="bold" fill="#111" stroke="#111" stroke-width="0.2">NF-&#954;B-luc</text><text x="480.7" y="343.2" font-size="7.35" font-weight="bold" fill="#111" stroke="#111" stroke-width="0.2" text-anchor="end">CPS49</text><rect x="348.3" y="423.9" width="134" height="71.3" fill="none" stroke="#b4b4b4" stroke-width="0.9"/><path d="M348.3 495.2h-2.2M348.3 483.32h-2.2M348.3 471.43h-2.2M348.3 459.55h-2.2M348.3 447.67h-2.2M348.3 435.78h-2.2M348.3 423.9h-2.2" stroke="#b4b4b4" stroke-width="0.7"/><g font-size="5.4" fill="#333" stroke="#333" stroke-width="0.12" text-anchor="end"><text x="343.2" y="497.1">0.0</text><text x="343.2" y="485.22">0.2</text><text x="343.2" y="473.33">0.4</text><text x="343.2" y="461.45">0.6</text><text x="343.2" y="449.57">0.8</text><text x="343.2" y="437.68">1.0</text><text x="343.2" y="425.8">1.2</text></g><g><rect x="353" y="494.01" width="3" height="1.19" fill="#4a4a4a"/><rect x="361" y="471.43" width="3" height="23.77" fill="#4a4a4a"/><rect x="362" y="472.33" width="1" height="22.87" fill="#fff"/><rect x="369" y="494.2" width="3" height="1" fill="#4a4a4a"/><rect x="376" y="489.26" width="3" height="5.94" fill="#4a4a4a"/><rect x="377" y="490.16" width="1" height="5.04" fill="#fff"/><rect x="384" y="494.01" width="3" height="1.19" fill="#4a4a4a"/><rect x="392" y="494.01" width="3" height="1.19" fill="#4a4a4a"/><rect x="400" y="474.4" width="3" height="20.8" fill="#4a4a4a"/><rect x="401" y="475.3" width="1" height="19.9" fill="#fff"/><rect x="408" y="445.88" width="3" height="49.32" fill="#4a4a4a"/><rect x="409" y="446.78" width="1" height="48.42" fill="#fff"/><rect x="416" y="466.09" width="3" height="29.11" fill="#4a4a4a"/><rect x="417" y="466.99" width="1" height="28.21" fill="#fff"/><rect x="424" y="458.96" width="3" height="36.24" fill="#4a4a4a"/><rect x="425" y="459.86" width="1" height="35.34" fill="#fff"/><rect x="432" y="435.78" width="3" height="59.42" fill="#4a4a4a"/><rect x="433" y="436.68" width="1" height="58.52" fill="#fff"/><rect x="439" y="440.54" width="3" height="54.66" fill="#4a4a4a"/><rect x="440" y="441.44" width="1" height="53.76" fill="#fff"/><rect x="447" y="493.42" width="3" height="1.78" fill="#4a4a4a"/><rect x="448" y="494.32" width="1" height="0.88" fill="#fff"/><rect x="455" y="464.3" width="3" height="30.9" fill="#4a4a4a"/><rect x="456" y="465.2" width="1" height="30" fill="#fff"/><rect x="463" y="494.01" width="3" height="1.19" fill="#4a4a4a"/><rect x="471" y="490.45" width="3" height="4.75" fill="#4a4a4a"/><rect x="472" y="491.35" width="1" height="3.85" fill="#fff"/></g><g fill="#0a0a0a"><rect x="364" y="494.61" width="2.8" height="0.59"/><rect x="403" y="494.61" width="2.8" height="0.59"/><rect x="411" y="494.01" width="2.8" height="1.19"/><rect x="419" y="494.01" width="2.8" height="1.19"/><rect x="427" y="494.01" width="2.8" height="1.19"/><rect x="435" y="493.71" width="2.8" height="1.49"/><rect x="442" y="493.71" width="2.8" height="1.49"/><rect x="458" y="493.71" width="2.8" height="1.49"/></g><g font-size="5.8" fill="#333" stroke="#333" stroke-width="0.12" text-anchor="middle"><text x="355.8" y="506.6">1</text><text x="363.68" y="506.6">2</text><text x="371.56" y="506.6">3</text><text x="379.44" y="506.6">4</text><text x="387.32" y="506.6">5</text><text x="395.2" y="506.6">6</text><text x="403.08" y="506.6">7</text><text x="410.96" y="506.6">8</text><text x="418.84" y="506.6">9</text><text x="426.72" y="506.6">10</text><text x="434.6" y="506.6">11</text><text x="442.48" y="506.6">12</text><text x="450.36" y="506.6">13</text><text x="458.24" y="506.6">14</text><text x="466.12" y="506.6">15</text><text x="474" y="506.6">16</text></g><text x="352.7" y="431.5" font-size="7.35" font-weight="bold" fill="#111" stroke="#111" stroke-width="0.2">NF-&#954;B-luc</text><text x="480.7" y="433.5" font-size="7.35" font-weight="bold" fill="#111" stroke="#111" stroke-width="0.2" text-anchor="end">CPS45</text></g>
</svg>
</body></html>
